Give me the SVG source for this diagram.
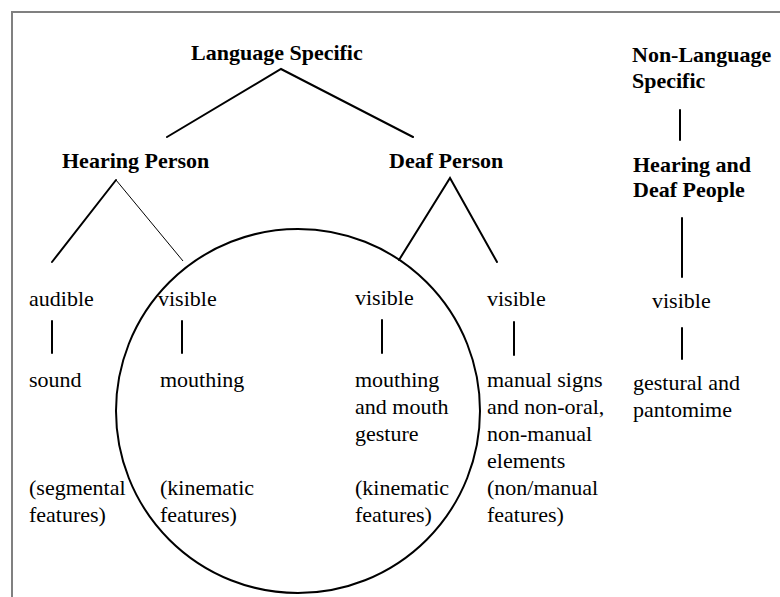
<svg xmlns="http://www.w3.org/2000/svg" width="780" height="597" viewBox="0 0 780 597">
<style>
text{font-family:"Liberation Serif","Times New Roman",serif;font-size:22px;fill:#000}
.b{font-weight:bold}
.ln{stroke:#000;stroke-width:2;fill:none;stroke-linecap:round}
.thin{stroke:#000;stroke-width:1;fill:none}
</style>
<rect x="0" y="0" width="780" height="597" fill="#fff"/>
<path d="M12,597 V12 H780" fill="none" stroke="#808080" stroke-width="2"/>
<g id="connectors">
<path class="ln" d="M167,137 L281,69 L413,137"/>
<line class="ln" x1="680" y1="110" x2="680" y2="140"/>
<line class="ln" x1="116" y1="180" x2="52" y2="262"/>
<line class="thin" x1="116" y1="180" x2="183" y2="261"/>
<path class="ln" d="M399,260 L450,178 L497,262"/>
<line class="ln" x1="682" y1="218" x2="682" y2="277"/>
<line class="ln" x1="52" y1="321" x2="52" y2="353"/>
<line class="ln" x1="182" y1="321" x2="182" y2="353"/>
<line class="ln" x1="382" y1="320" x2="382" y2="353"/>
<line class="ln" x1="514" y1="322" x2="514" y2="355"/>
<line class="ln" x1="682" y1="328" x2="682" y2="359"/>
</g>
<g id="circle"><circle cx="298" cy="411" r="182" class="ln"/></g>
<g id="language-specific"><text class="b" x="191" y="60">Language Specific</text></g>
<g id="non-language-specific"><text class="b" x="632" y="62">Non-Language</text><text class="b" x="632" y="88">Specific</text></g>
<g id="hearing-person"><text class="b" x="62" y="168">Hearing Person</text></g>
<g id="deaf-person"><text class="b" x="389" y="168">Deaf Person</text></g>
<g id="hearing-deaf-people"><text class="b" x="633" y="172">Hearing and</text><text class="b" x="633" y="197">Deaf People</text></g>
<g id="audible"><text x="29" y="306">audible</text></g>
<g id="visible-hearing"><text x="158" y="306">visible</text></g>
<g id="visible-deaf"><text x="355" y="305">visible</text></g>
<g id="visible-manual"><text x="487" y="306">visible</text></g>
<g id="visible-gestural"><text x="652" y="308">visible</text></g>
<g id="sound"><text x="29" y="387">sound</text><text x="29" y="495">(segmental</text><text x="29" y="522">features)</text></g>
<g id="mouthing-hearing"><text x="160" y="387">mouthing</text><text x="160" y="495">(kinematic</text><text x="160" y="522">features)</text></g>
<g id="mouthing-deaf"><text x="355" y="387">mouthing</text><text x="355" y="414">and mouth</text><text x="355" y="441">gesture</text><text x="355" y="495">(kinematic</text><text x="355" y="522">features)</text></g>
<g id="manual-signs"><text x="487" y="387">manual signs</text><text x="487" y="414">and non-oral,</text><text x="487" y="441">non-manual</text><text x="487" y="468">elements</text><text x="487" y="495">(non/manual</text><text x="487" y="522">features)</text></g>
<g id="gestural"><text x="633" y="390">gestural and</text><text x="633" y="417">pantomime</text></g>
</svg>
